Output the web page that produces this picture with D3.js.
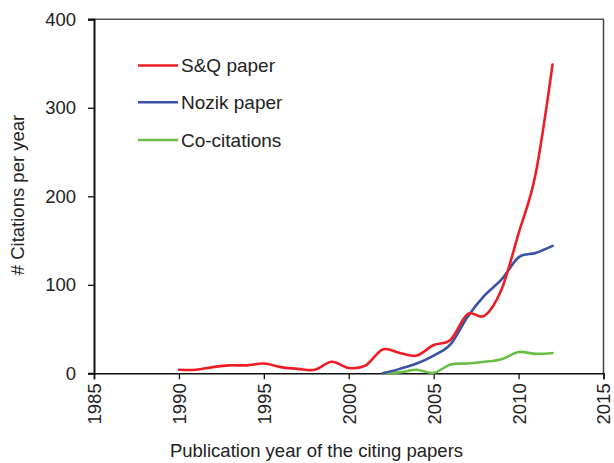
<!DOCTYPE html>
<html><head><meta charset="utf-8">
<script src="https://cdn.jsdelivr.net/npm/d3@7"></script>
<style>body{margin:0;background:#fff}svg{display:block}text{font-family:"Liberation Sans",Arial,Helvetica,sans-serif;fill:#222}</style>
</head><body>
<script>
const yearsSQ = [1990,1991,1992,1993,1994,1995,1996,1997,1998,1999,2000,2001,2002,2003,2004,2005,2006,2007,2008,2009,2010,2011,2012];
const sqValues = [4,4,7,9,9,11,7,5,4,13,6,9,27,23,20,32,38,67,65,95,158,225,349];
const yearsNozik = [2002,2003,2004,2005,2006,2007,2008,2009,2010,2011,2012];
const nozikValues = [0,5,11,20,33,64,88,106,131,136,144];
const yearsCo = [2002,2003,2004,2005,2006,2007,2008,2009,2010,2011,2012];
const coValues = [0,1,4,0.5,10,11,13,16,24,22,23];
const xTicks = [1985,1990,1995,2000,2005,2010,2015];
const yTicks = [0,100,200,300,400];
const seriesNames = ["S&Q paper","Nozik paper","Co-citations"];
const seriesColors = ["#ee1c24","#3a52a3","#6abd45"];

const W=614,H=463;
const svg=d3.select("body").append("svg").attr("width",W).attr("height",H);
const x=d3.scaleLinear().domain([1985,2015]).range([94,603.5]);
const y=d3.scaleLinear().domain([0,400]).range([373.3,19.3]);

// frame top and right
svg.append("line").attr("x1",88).attr("x2",604).attr("y1",y(400)).attr("y2",y(400)).attr("stroke","#555").attr("stroke-width",1.5);
svg.append("line").attr("x1",x(2015)).attr("x2",x(2015)).attr("y1",y(400)).attr("y2",y(0)).attr("stroke","#444").attr("stroke-width",1.5);

// y axis
const ya=svg.append("g").attr("transform",`translate(${x(1985)},0)`)
 .call(d3.axisLeft(y).tickValues(yTicks).tickSize(6).tickPadding(12).tickFormat(d3.format("d")));
ya.select(".domain").attr("stroke","#111").attr("stroke-width",2);
ya.selectAll(".tick line").attr("stroke","#111").attr("stroke-width",1.3);
ya.selectAll(".tick text").style("font-size","18.5px").attr("fill","#222");

// x axis
const xa=svg.append("g").attr("transform",`translate(0,${y(0)})`)
 .call(d3.axisBottom(x).tickValues(xTicks).tickSize(6).tickPadding(0).tickFormat(d3.format("d")));
xa.select(".domain").attr("stroke","#111").attr("stroke-width",1.6);
xa.selectAll(".tick line").attr("stroke","#111").attr("stroke-width",1.3);
xa.selectAll(".tick text").style("font-size","18.5px").attr("fill","#222")
 .attr("transform","rotate(-90)").attr("text-anchor","end").attr("x",-10).attr("y",0).attr("dy","0.35em");

// lines
const line=d3.line().x(d=>x(d[0])).y(d=>y(d[1])).curve(d3.curveCardinal.tension(0));
const data=[d3.zip(yearsSQ,sqValues),d3.zip(yearsNozik,nozikValues),d3.zip(yearsCo,coValues)];
[2,1,0].forEach(i=>{
 svg.append("path").datum(data[i]).attr("d",line).attr("fill","none")
  .attr("stroke",seriesColors[i]).attr("stroke-width",2.6).attr("stroke-linejoin","round").attr("stroke-linecap","round");
});

// legend
const legY=[65.5,102.3,140];
seriesNames.forEach((n,i)=>{
 svg.append("line").attr("x1",138).attr("x2",178).attr("y1",legY[i]).attr("y2",legY[i]).attr("stroke",seriesColors[i]).attr("stroke-width",2.6);
 svg.append("text").attr("x",181).attr("y",legY[i]).attr("dy","0.35em").style("font-size","19px").text(n);
});

// titles
svg.append("text").attr("transform",`translate(18,195) rotate(-90)`).attr("text-anchor","middle").attr("dy","0.35em").style("font-size","18.5px").text("# Citations per year");
svg.append("text").attr("x",(168+465)/2).attr("y",451).attr("text-anchor","middle").attr("dy","0.35em").style("font-size","18.5px").text("Publication year of the citing papers");
</script>
</body></html>
